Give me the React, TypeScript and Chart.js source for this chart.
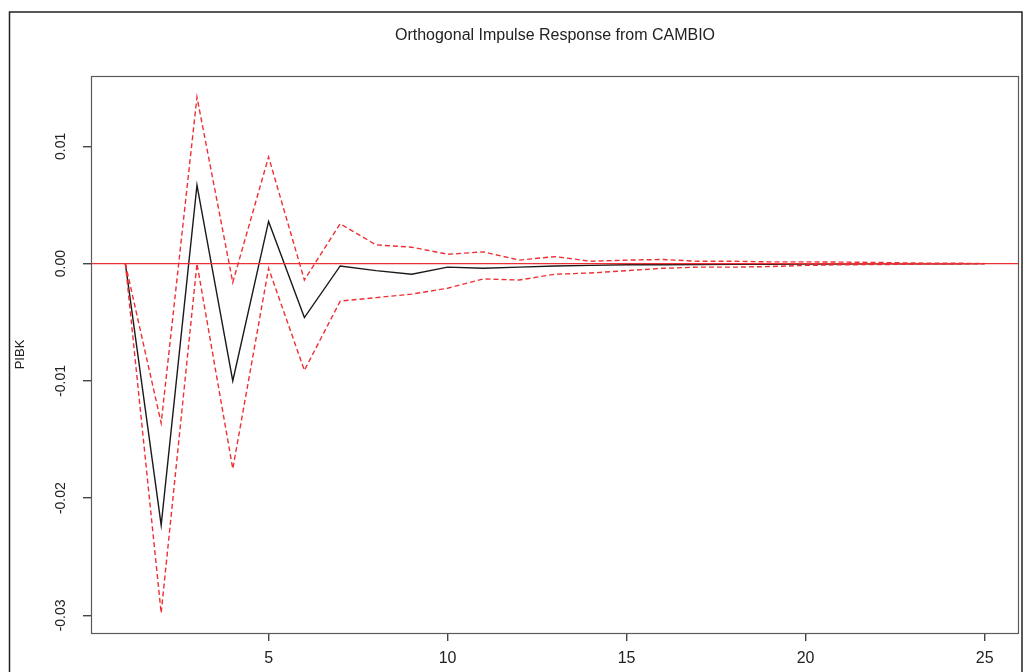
import React, { useEffect, useRef } from 'react';
import { Chart, registerables } from 'chart.js';

Chart.register(...registerables);

// ---- data ----
const horizon = [1, 2, 3, 4, 5, 6, 7, 8, 9, 10, 11, 12, 13, 14, 15, 16, 17, 18, 19, 20, 21, 22, 23, 24, 25];
const response = [0, -0.0223, 0.0067, -0.01, 0.0036, -0.0046, -0.0002, -0.0006, -0.0009, -0.0003, -0.0004, -0.0003, -0.0002, -0.00015, -0.0001, -0.0001, -0.00008, -0.00006, -0.00005, -0.00004, -0.00003, -0.00002, -0.00001, -0.00001, 0];
const upperBand = [0, -0.0136, 0.0142, -0.0016, 0.0091, -0.0014, 0.0034, 0.0016, 0.0014, 0.0008, 0.001, 0.0003, 0.0006, 0.0002, 0.0003, 0.00035, 0.0002, 0.0002, 0.00015, 0.00015, 0.00013, 0.0001, 0.00005, 0.00003, 0.00002];
const lowerBand = [0, -0.0298, 0.0, -0.0175, -0.0004, -0.0091, -0.0032, -0.0029, -0.0026, -0.0021, -0.0013, -0.0014, -0.0009, -0.0008, -0.0006, -0.0004, -0.0003, -0.0003, -0.00025, -0.00015, -0.0001, -0.00008, -0.00005, -0.00003, -0.00002];
const xTickValues = [5, 10, 15, 20, 25];
const yTickValues = [-0.03, -0.02, -0.01, 0, 0.01];
const xRange = [0.04, 25.96];
const yRange = [-0.0315, 0.016];
const titleText = 'Orthogonal Impulse Response from CAMBIO';
const yAxisLabel = 'PIBK';

const FONT = "'Liberation Sans', Arial, Helvetica, sans-serif";
const RED = 'rgb(238, 48, 52)';

const framePlugin = {
  id: 'rframe',
  afterDraw(chart: any) {
    const { ctx, chartArea: a } = chart;
    ctx.save();
    ctx.strokeStyle = '#5a5a5a';
    ctx.lineWidth = 1.2;
    ctx.strokeRect(a.left + 0.5, a.top + 0.5, a.right - a.left - 1, a.bottom - a.top);
    ctx.strokeStyle = '#222';
    ctx.lineWidth = 1.5;
    ctx.beginPath();
    ctx.moveTo(9.5, 700);
    ctx.lineTo(9.5, 12);
    ctx.lineTo(1022, 12);
    ctx.lineTo(1022, 700);
    ctx.stroke();
    ctx.restore();
  },
};

const toPoints = (ys: number[]) => horizon.map((x, i) => ({ x, y: ys[i] }));

export default function App() {
  const ref = useRef<HTMLCanvasElement | null>(null);

  useEffect(() => {
    document.body.style.margin = '0';
    const canvas = ref.current;
    if (!canvas) return;
    const chart = new Chart(canvas, {
      type: 'line',
      data: {
        datasets: [
          {
            label: 'zero',
            data: [
              { x: xRange[0], y: 0 },
              { x: xRange[1], y: 0 },
            ],
            borderColor: RED,
            borderWidth: 1.3,
            pointRadius: 0,
            order: 1,
          },
          {
            label: 'lower',
            data: toPoints(lowerBand),
            borderColor: RED,
            borderWidth: 1.4,
            borderDash: [5, 3],
            pointRadius: 0,
            order: 2,
          },
          {
            label: 'upper',
            data: toPoints(upperBand),
            borderColor: RED,
            borderWidth: 1.4,
            borderDash: [5, 3],
            pointRadius: 0,
            order: 3,
          },
          {
            label: 'PIBK',
            data: toPoints(response),
            borderColor: '#1a1a1a',
            borderWidth: 1.4,
            pointRadius: 0,
            order: 4,
          },
        ],
      },
      options: {
        responsive: false,
        animation: false,
        events: [],
        layout: { padding: { top: 0, right: 4, bottom: 0, left: 0 } },
        elements: { line: { tension: 0, fill: false } },
        plugins: {
          legend: { display: false },
          tooltip: { enabled: false },
          title: {
            display: true,
            text: titleText,
            fullSize: false,
            color: '#222',
            font: { family: FONT, size: 16, weight: 'normal' },
            padding: { top: 26, bottom: 30.8 },
          },
        },
        scales: {
          x: {
            type: 'linear',
            min: xRange[0],
            max: xRange[1],
            afterBuildTicks: (s: any) => {
              s.ticks = xTickValues.map((v) => ({ value: v }));
            },
            afterFit: (s: any) => {
              s.height = 39;
            },
            border: { display: false },
            grid: { drawOnChartArea: false, drawTicks: true, tickLength: 8, color: '#444', lineWidth: 1.4 },
            ticks: {
              autoSkip: false,
              maxRotation: 0,
              minRotation: 0,
              padding: 8,
              color: '#222',
              font: { family: FONT, size: 16 },
              callback: (v: any) => String(v),
            },
          },
          y: {
            type: 'linear',
            min: yRange[0],
            max: yRange[1],
            afterBuildTicks: (s: any) => {
              s.ticks = yTickValues.map((v) => ({ value: v }));
            },
            afterFit: (s: any) => {
              s.width = 91;
            },
            border: { display: false },
            grid: { drawOnChartArea: false, drawTicks: true, tickLength: 8, color: '#444', lineWidth: 1.4 },
            title: {
              display: true,
              text: yAxisLabel,
              color: '#222',
              font: { family: FONT, size: 13 },
              padding: { top: 13, bottom: 0 },
            },
            ticks: {
              autoSkip: false,
              minRotation: 90,
              maxRotation: 90,
              crossAlign: 'center',
              padding: 6,
              color: '#222',
              font: { family: FONT, size: 14 },
              callback: (v: any) => Number(v).toFixed(2),
            },
          },
        },
      },
      plugins: [framePlugin],
    } as any);
    return () => chart.destroy();
  }, []);

  return (
    <div style={{ position: 'absolute', left: 0, top: 0, width: 1023, height: 672, background: '#fff' }}>
      <canvas ref={ref} width={1023} height={672} style={{ display: 'block' }} />
    </div>
  );
}
